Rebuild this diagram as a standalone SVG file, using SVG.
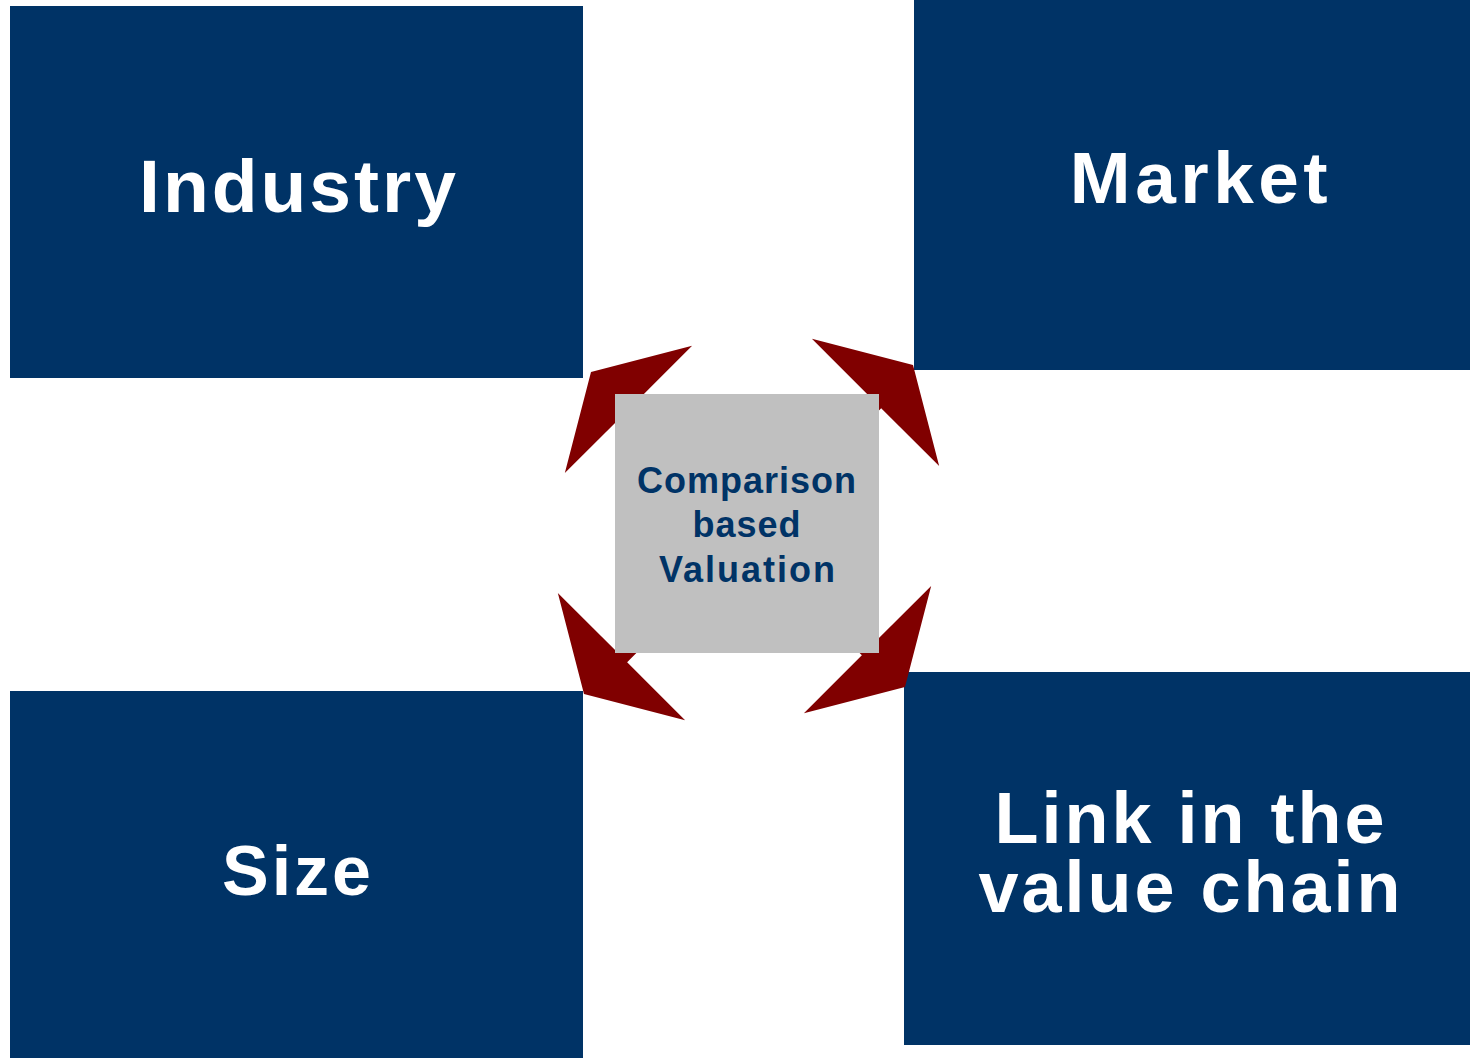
<svg xmlns="http://www.w3.org/2000/svg" width="1470" height="1058" viewBox="0 0 1470 1058">
  <style>
    .box { fill: #003366; }
    .label { fill: #ffffff; font-family: "Liberation Sans", Arial, sans-serif; font-weight: bold; text-anchor: middle; letter-spacing: 3px; }
    .core { fill: #c0c0c0; }
    .core-label { fill: #003366; font-family: "Liberation Sans", Arial, sans-serif; font-weight: bold; font-size: 36px; text-anchor: middle; letter-spacing: 1px; }
    .arrow { fill: #800000; }
  </style>
  <defs>
    <!-- block arrow with its tip at the origin, pointing towards -x -->
    <polygon id="outArrow" points="0,0 53,-90 53,-8 200,-8 200,8 53,8 53,90"/>
  </defs>

  <g id="node-industry">
    <rect class="box" x="10" y="6" width="573" height="372"/>
    <text class="label" x="299" y="212" font-size="75">Industry</text>
  </g>

  <g id="node-market">
    <rect class="box" x="914" y="0" width="556" height="370"/>
    <text class="label" x="1201" y="203" font-size="73" style="letter-spacing:4.5px">Market</text>
  </g>

  <g id="node-size">
    <rect class="box" x="10" y="691" width="573" height="367"/>
    <text class="label" x="298" y="895" font-size="70">Size</text>
  </g>

  <g id="node-link">
    <rect class="box" x="904" y="672" width="566" height="373"/>
    <text class="label" x="1191" y="843" font-size="72">Link in the</text>
    <text class="label" x="1191" y="912" font-size="72">value chain</text>
  </g>

  <g id="connectors">
    <use href="#outArrow" class="arrow" transform="translate(591,372) rotate(45)"/>
    <use href="#outArrow" class="arrow" transform="translate(913,365) rotate(135)"/>
    <use href="#outArrow" class="arrow" transform="translate(905,687) rotate(225)"/>
    <use href="#outArrow" class="arrow" transform="translate(584,694) rotate(-45)"/>
  </g>

  <g id="node-valuation">
    <rect class="core" x="615" y="394" width="264" height="259"/>
    <text class="core-label" x="747" y="493">Comparison</text>
    <text class="core-label" x="747" y="537">based</text>
    <text class="core-label" x="748" y="582" style="letter-spacing:2px">Valuation</text>
  </g>
</svg>
